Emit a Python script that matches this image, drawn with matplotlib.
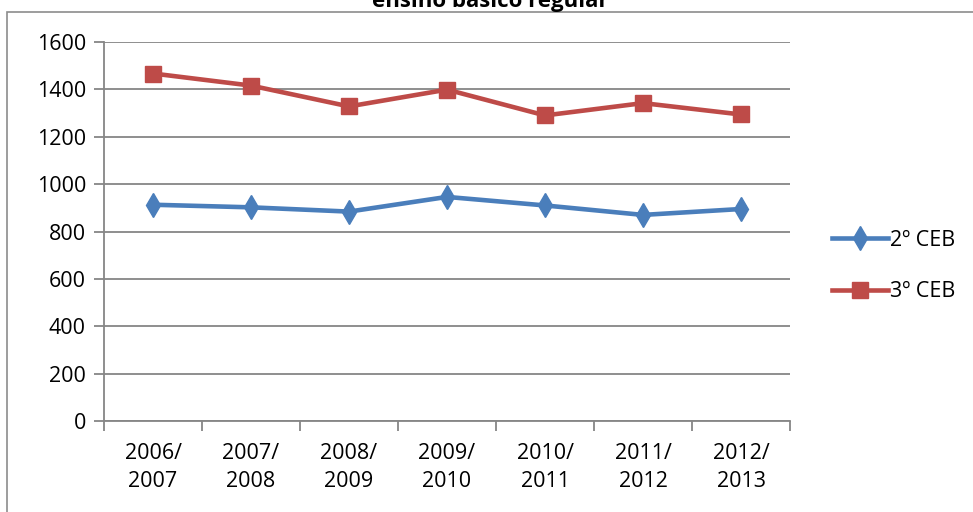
import matplotlib
matplotlib.use("Agg")
import matplotlib.pyplot as plt
from matplotlib.patches import Rectangle

# -----------------------------
# DONNEES
# -----------------------------
anos = ["2006/\n2007", "2007/\n2008", "2008/\n2009", "2009/\n2010",
        "2010/\n2011", "2011/\n2012", "2012/\n2013"]
ceb2 = [913, 902, 884, 946, 910, 870, 895]
ceb3 = [1467, 1416, 1328, 1399, 1290, 1342, 1294]
series_labels = ["2º CEB", "3º CEB"]

plt.rcParams['font.family'] = ['Open Sans', 'DejaVu Sans']

fig = plt.figure(figsize=(9.73, 5.12), dpi=100)
W, H = 973, 512
ax = fig.add_axes([104 / W, 1 - 421 / H, 686 / W, 379 / H])

# cadre du graphique (coupé à droite et en bas)
fig.patches.append(Rectangle((7 / W, -0.1), 1.2, 1 - 12 / H + 0.1,
                             transform=fig.transFigure, fill=False,
                             edgecolor="#8c8c8c", linewidth=1.2))

x = list(range(len(anos)))
ax.plot(x, ceb2, color="#4a7ebb", linewidth=3.3, marker="d",
        markersize=12, label=series_labels[0], zorder=3)
ax.plot(x, ceb3, color="#be4b48", linewidth=3.3, marker="s",
        markersize=11, label=series_labels[1], zorder=3)

ax.set_xlim(-0.5, len(anos) - 0.5)
ax.set_ylim(0, 1600)
ax.set_yticks(range(0, 1601, 200))
ax.yaxis.grid(True, color="#868686", linewidth=1.3)
ax.set_axisbelow(True)

# ticks aux frontieres des categories, labels au centre
ax.set_xticks([i - 0.5 for i in range(len(anos) + 1)])
ax.set_xticklabels([])
ax.set_xticks(x, minor=True)
ax.set_xticklabels(anos, minor=True, fontsize=15.5, linespacing=1.45)
ax.tick_params(axis="x", which="minor", length=0, pad=16)
ax.tick_params(axis="x", which="major", length=7, color="#868686", width=1.3)
ax.tick_params(axis="y", length=7, color="#868686", width=1.3,
               labelsize=15.5, pad=6)

for s in ["top", "right"]:
    ax.spines[s].set_visible(False)
for s in ["left", "bottom"]:
    ax.spines[s].set_color("#868686")
    ax.spines[s].set_linewidth(1.3)

leg = fig.legend(loc="center left", bbox_to_anchor=(813 / W, 1 - 266 / H),
                 frameon=False, fontsize=15.5, handlelength=2.6,
                 labelspacing=1.4, handletextpad=0.1)

fig.text(490 / W, 1 - 7 / H, "ensino básico regular", ha="center",
         va="baseline", fontsize=16, fontweight="bold")

fig.savefig("out.png", dpi=100)
